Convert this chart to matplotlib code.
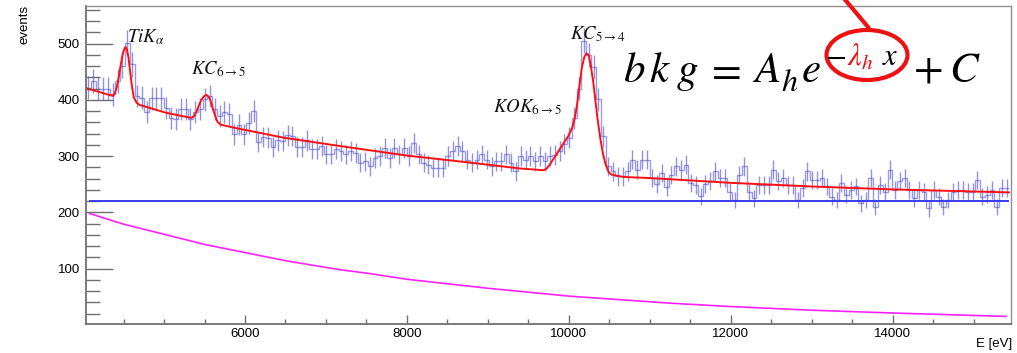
import matplotlib
matplotlib.use("Agg")
import matplotlib.pyplot as plt
from matplotlib.patches import Ellipse
from matplotlib.lines import Line2D
from matplotlib.ticker import MultipleLocator
import numpy as np

plt.rcParams['font.family'] = ['Liberation Sans', 'DejaVu Sans']
plt.rcParams['mathtext.fontset'] = 'stix'

# histogram: 190 bins of 60 eV starting at 4036 eV
bin_start = 4036
bin_width = 60
counts = [422, 434, 420, 420, 420, 410, 434, 460, 502, 463,
          407, 404, 378, 403, 403, 403, 386, 368, 366, 383,
          383, 366, 378, 383, 401, 407, 383, 371, 378, 375,
          339, 356, 339, 359, 381,
          325, 334, 333, 316, 328, 327, 337, 336, 316, 316,
          328, 312, 312, 318, 303, 303, 312, 309, 303, 309,
          306, 288, 291, 282, 297, 300, 315, 297, 315,
          303, 315, 300, 324, 303, 288, 285, 279, 279, 279,
          300, 309, 318, 309, 294, 288, 294, 303, 294, 282,
          291, 291, 303, 288, 273, 300, 294, 300, 291, 300, 291, 300,
          302, 309, 322, 333, 368, 420, 505, 480, 458, 401,
          335, 282, 273, 264, 264, 273, 294, 276, 294, 294,
          261, 250, 270, 245, 267, 282, 276, 285, 252, 249, 229, 250,
          255, 273, 261, 261, 237, 222, 267, 282, 237, 225,
          249, 249, 249, 276, 255, 261, 249, 249, 222, 243,
          273, 258, 258, 261, 246, 228, 222, 252, 231, 240, 246, 216,
          222, 261, 210, 249, 237, 276, 240, 255, 261, 240,
          225, 240, 237, 207, 240, 228, 210, 222, 237, 240,
          240, 237, 237, 257, 228, 231, 240, 210, 243, 243]

# total fit (red)
fit_E = [4036, 4200, 4368, 4390, 4415, 4440, 4465, 4490, 4510, 4524, 4540, 4560,
         4580, 4600, 4625, 4660, 4700, 5027, 5336, 5370, 5400, 5430, 5460, 5490,
         5522, 5550, 5575, 5600, 5630, 5660, 5700, 5851, 6469, 7170, 8000, 8686,
         9400, 9683, 9720, 9760, 9800, 9860, 9930, 9990, 10040, 10070, 10100,
         10130, 10160, 10190, 10218, 10245, 10270, 10300, 10330, 10360, 10390,
         10420, 10450, 10490, 10527, 10671, 11000, 12000, 13000, 14000, 15436]
fit_v = [421, 414, 407, 411, 422, 440, 462, 482, 491, 494, 490, 476,
         452, 428, 405, 395, 391, 377, 368, 371, 379, 390, 400, 406,
         409, 406, 398, 386, 372, 361, 356, 351, 333, 318, 301, 290,
         278, 275, 277, 284, 293, 306, 322, 335, 350, 365, 390,
         425, 457, 476, 483, 479, 462, 433, 396, 360, 330,
         305, 287, 272, 267, 263, 261, 252.5, 246, 240.8, 235.5]

# exponential part of the background (magenta)
exp_E = [4080, 4500, 5027, 5500, 6016, 6500, 7170, 7500, 8000, 9000, 10004,
         11249, 12000, 13000, 14000, 15400]
exp_v = [198, 179, 160, 143, 128, 114, 98, 92, 81, 65, 51, 38.5, 32.5, 26, 21, 15]

# constant part (blue)
const_E = [4080, 15420]
const_C = 220

labels = [r'$TiK_{\alpha}$', r'$KC_{6\rightarrow5}$', r'$KOK_{6\rightarrow5}$', r'$KC_{5\rightarrow4}$']
label_E = [4540, 5330, 9065, 10013]
label_v = [503, 446, 378, 507]

W, H = 1017, 353
fig = plt.figure(figsize=(W / 100, H / 100), dpi=100)
ax = fig.add_axes([86 / W, 1 - 323.7 / H, (1011 - 86) / W, (323.7 - 6) / H])

edges = bin_start + bin_width * np.arange(len(counts) + 1)
centers = edges[:-1] + bin_width / 2
counts = np.array(counts, dtype=float)
hcol = '#4a4ad0'
ax.stairs(counts, edges, baseline=None, color=hcol, alpha=0.55, lw=1.0)
ax.errorbar(centers, counts, yerr=np.sqrt(counts), fmt='none', ecolor=hcol,
            alpha=0.6, elinewidth=1.0)

ax.plot(const_E, [const_C, const_C], color='#3a3af0', lw=1.4)
ax.plot(exp_E, exp_v, color='#ff22ff', lw=1.2)
ax.plot(fit_E, fit_v, color='#ff1010', lw=1.4)

for t, e, v in zip(labels, label_E, label_v):
    ax.text(e, v, t, fontsize=13.5, ha='left', va='baseline', color='#111111')

ax.set_xlim(4036, 15461)
ax.set_ylim(2, 567)
ax.xaxis.set_major_locator(MultipleLocator(2000))
ax.xaxis.set_minor_locator(MultipleLocator(500))
ax.yaxis.set_major_locator(MultipleLocator(100))
ax.yaxis.set_minor_locator(MultipleLocator(20))
ax.tick_params(axis='both', which='both', direction='in', colors='#707070',
               labelcolor='black', labelsize=9.5, top=False, right=False)
ax.tick_params(axis='y', which='major', length=19.5, width=1.0, pad=4.5)
ax.tick_params(axis='y', which='minor', length=10, width=1.0)
ax.tick_params(axis='x', which='major', length=6.5, width=1.0, pad=3)
ax.tick_params(axis='x', which='minor', length=3.5, width=1.0)
for s in ['left', 'bottom']:
    ax.spines[s].set_color('#707070')
    ax.spines[s].set_linewidth(1.3)
for s in ['top', 'right']:
    ax.spines[s].set_color('#909090')
    ax.spines[s].set_linewidth(1.0)

fig.text(25 / W, 1 - 5 / H, 'events', rotation=90, ha='center', va='top', fontsize=9.5)
fig.text(1012 / W, 1 - 350 / H, 'E [eV]', ha='right', va='bottom', fontsize=9.5)

# background formula, glyph by glyph: (text, left px, baseline px, size, colour)
formula = [(r'$b$', 623, 81.7, 31, 'black'),
           (r'$k$', 649, 81.7, 31, 'black'),
           (r'$g$', 676, 81.7, 31, 'black'),
           (r'${=}$', 705, 81.7, 31, 'black'),
           (r'$A$', 752, 81.7, 31, 'black'),
           (r'$h$', 781, 91.0, 23, 'black'),
           (r'$e$', 801, 81.7, 31, 'black'),
           (r'${-}$', 828, 65.0, 22, 'black'),
           (r'$\lambda_h$', 847, 66.0, 22, '#ee1111'),
           (r'$x$', 882, 65.0, 22, 'black'),
           (r'${+}$', 913, 81.7, 31, 'black'),
           (r'$C$', 949, 81.7, 31, 'black')]
pieces = []
for t, px, py, fs, c in formula:
    pieces.append(fig.text(px / W, 1 - py / H, t, fontsize=fs, color=c,
                           ha='left', va='baseline'))
# keep each glyph clear of the next one, nudging the earlier glyph leftwards
fig.canvas.draw()
r = fig.canvas.get_renderer()
for i in range(len(pieces) - 2, -1, -1):
    left_next = pieces[i + 1].get_window_extent(r).x0
    bb = pieces[i].get_window_extent(r)
    if bb.x1 > left_next - 1:
        x, y = pieces[i].get_position()
        pieces[i].set_position((x - (bb.x1 - left_next + 1) / W, y))

fig.add_artist(Ellipse((867 / W, 1 - 55 / H), 81 / W, 50 / H, transform=fig.transFigure,
                       fill=False, edgecolor='#ee1111', lw=3))
fig.add_artist(Line2D([868 / W, 842 / W], [1 - 27 / H, 1 + 4 / H], transform=fig.transFigure,
                      color='#ee1111', lw=3))

fig.savefig('out.png', dpi=100)
